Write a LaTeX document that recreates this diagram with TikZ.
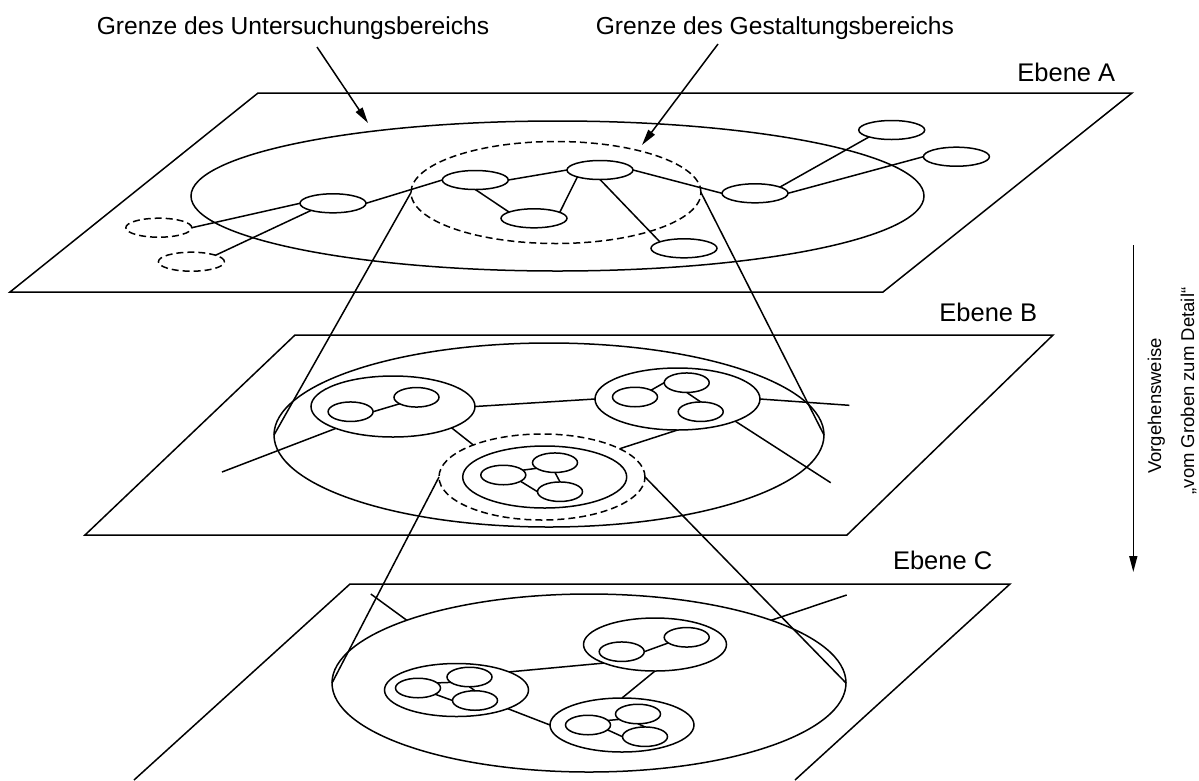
\documentclass[tikz,border=0pt]{standalone}
\usepackage{fontspec}
\setmainfont{Liberation Sans}
\usetikzlibrary{shapes.geometric,arrows.meta}
\begin{document}
\begin{tikzpicture}[x=1pt,y=-1pt,line width=1.5pt,
  oval/.style 2 args={ellipse,draw,inner sep=0pt,outer sep=0pt,minimum width=#1,minimum height=#2},
  anode/.style={oval={66}{19}},
  snode/.style={oval={45}{19.5}},
  brk/.style={dash pattern=on 7pt off 4pt},
  lbl/.style={font=\fontsize{24.6}{28}\selectfont,inner sep=0pt,anchor=base west},
  lvl/.style={font=\fontsize{25.5}{30}\selectfont,inner sep=0pt,anchor=base east},
  side/.style={font=\fontsize{18.5}{22}\selectfont,inner sep=0pt,rotate=90,anchor=base},
  tip/.style={-{Triangle[length=16pt,width=8pt]}}]
\useasboundingbox (0,0) rectangle (1199,780);

% ---------- the three planes ----------
\draw (10,292) -- (258,93) -- (1132,93) -- (883,292) -- cycle;
\draw (85,535) -- (295,335) -- (1053,335) -- (847,535) -- cycle;
\draw (134,780) -- (350,584) -- (1010,584) -- (795,780);

\node[lvl] (ea) at (1116,81) {Ebene A};
\node[lvl] (eb) at (1038,321) {Ebene B};
\node[lvl] (ec) at (993,569) {Ebene C};

% ---------- plane A ----------
\node[oval={733}{150}] (Aout) at (557.5,196) {};
\node[oval={290}{102},brk] (Adash) at (556,192.5) {};
\node[anode] (n1) at (333,203.3) {};
\node[anode] (n2) at (475.3,180) {};
\node[anode] (n3) at (534,218.3) {};
\node[anode] (n4) at (600,170) {};
\node[anode] (n5) at (755,193.3) {};
\node[anode] (n6) at (891.7,130) {};
\node[anode] (n7) at (956.4,156.7) {};
\node[anode] (n8) at (684,248.3) {};
\node[anode,brk] (d1) at (158.8,227.7) {};
\node[anode,brk] (d2) at (191.4,261.7) {};

\draw (d1.east) -- (n1.west);
\draw (d2.15) -- (n1.198);
\draw (n1.east) -- (n2.west);
\draw (n2.east) -- (n4.west);
\draw (n2.south) -- (n3.166);
\draw (n3.13) -- (n4.197);
\draw (n4.south) -- (n8.165);
\draw (n4.east) -- (n5.west);
\draw (n5.14) -- (n6.197);
\draw (n5.east) -- (n7.west);

% ---------- labels with arrows ----------
\node[lbl] (lab1) at (96,34.3) {Grenze des Untersuchungsbereichs};
\node[lbl] (lab2) at (595,34.3) {Grenze des Gestaltungsbereichs};
\coordinate (a1s) at (317,47);
\coordinate (a1e) at (368,123);
\coordinate (a2s) at (718,44);
\coordinate (a2e) at (642,145);
\draw[tip] (a1s) -- (a1e);
\draw[tip] (a2s) -- (a2e);

% ---------- plane B ----------
\node[oval={550}{184}] (Bout) at (549,435) {};
\node[oval={206}{86},brk] (Bdash) at (542,477) {};
\node[oval={164}{61}] (B1) at (393,406.5) {};
\node[oval={165}{62}] (B2) at (677.5,399) {};
\node[oval={164}{62}] (B3) at (544.7,477) {};

\node[snode] (b1a) at (350.6,411.7) {};
\node[snode] (b1b) at (416.5,397.3) {};
\node[snode] (b2a) at (635,397) {};
\node[snode] (b2b) at (686.7,382.7) {};
\node[snode] (b2c) at (700.7,411.7) {};
\node[snode] (b3a) at (503.3,475) {};
\node[snode] (b3b) at (555,462.7) {};
\node[snode] (b3c) at (560,491.7) {};

\draw (b1a.east) -- (b1b.201);
\draw (b2a.23) -- (b2b.west);
\draw (b2b.south) -- (b2c.north);
\draw (b3a.14) -- (b3b.197);
\draw (b3a.-20) -- (b3c.west);
\draw (b3b.south) -- (b3c.north);

\coordinate (fb1) at (222,472);
\coordinate (fb2a) at (849.3,405.3);
\coordinate (fb2b) at (830.7,482.7);
\draw (B1.east) -- (B2.west);
\draw (B1) -- (fb1);
\draw (B1.-20) -- (Bdash.155);
\draw (B2.east) -- (fb2a);
\draw (B2.-21) -- (fb2b);
\draw (B2.south) -- (Bdash.20);

% ---------- plane C ----------
\node[oval={514}{178}] (Cout) at (589,683) {};
\node[oval={144}{53}] (C1) at (456.5,690) {};
\node[oval={143}{53}] (C2) at (655,644.5) {};
\node[oval={144}{54}] (C3) at (622,725) {};

\node[snode] (c1a) at (418,688) {};
\node[snode] (c1b) at (469.5,677) {};
\node[snode] (c1c) at (475,700.5) {};
\node[snode] (c2a) at (621.7,651.7) {};
\node[snode] (c2b) at (686.7,637.3) {};
\node[snode] (c3a) at (588,725) {};
\node[snode] (c3b) at (638,714) {};
\node[snode] (c3c) at (645,736.7) {};

\draw (c1a.15) -- (c1b.196);
\draw (c1a.-20) -- (c1c.west);
\draw (c1b.south) -- (c1c.north);
\draw (c2a.east) -- (c2b.197);
\draw (c3a.13) -- (c3b.196);
\draw (c3a.-14) -- (c3c.west);
\draw (c3b.south) -- (c3c.north);

\coordinate (fc1) at (370.8,594);
\coordinate (fc2) at (846.7,595);
\draw (C1.19) -- (C2.200);
\draw (C1.-20) -- (C3.west);
\draw (C2.south) -- (C3.north);
\draw (Cout.161) -- (fc1);
\draw (Cout.19) -- (fc2);

% ---------- projection lines between the planes ----------
\draw (Adash.west) -- (Bout.west);
\draw (Adash.east) -- (Bout.east);
\draw (Bdash.west) -- (Cout.west);
\draw (Bdash.east) -- (Cout.east);

% ---------- direction of work ----------
\coordinate (v1) at (1133.3,245);
\coordinate (v2) at (1133.3,572);
\draw[tip] (v1) -- (v2);
\node[side] (vg1) at (1161,406) {Vorgehensweise};
\node[side] (vg2) at (1194,391) {„vom Groben zum Detail“};
\end{tikzpicture}
\end{document}
